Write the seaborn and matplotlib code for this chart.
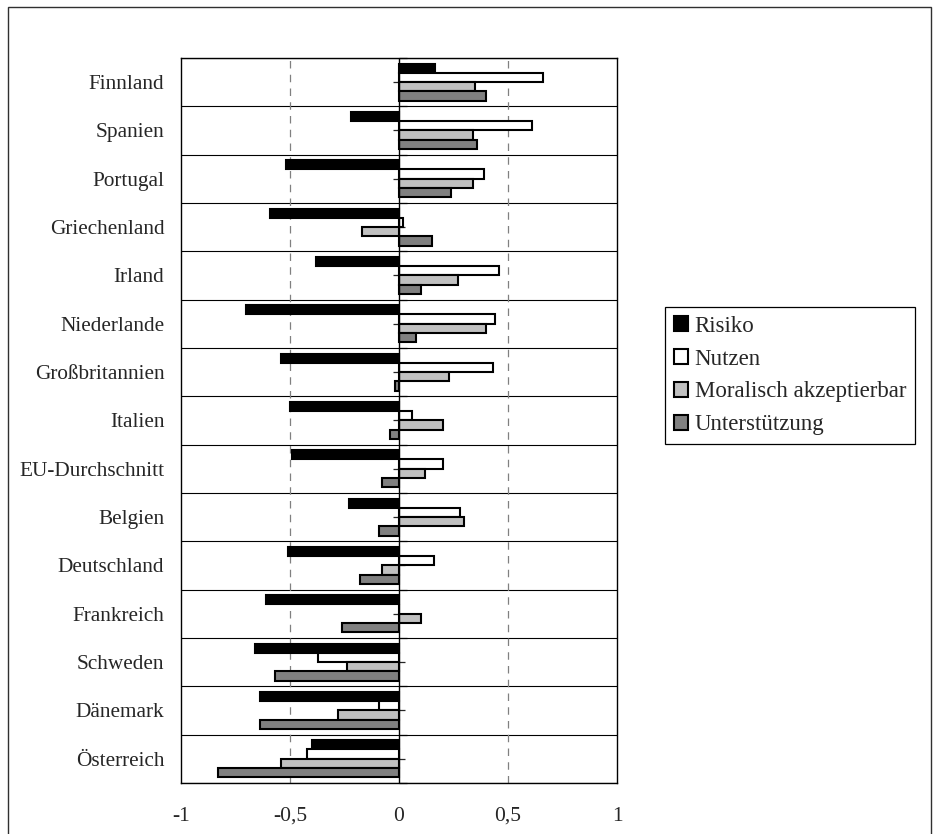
#! /usr/bin/env python3

import numpy as np
import pandas as pd
import matplotlib
matplotlib.use('Agg')
import matplotlib.pyplot as plt
from matplotlib.patches import Rectangle
import seaborn as sns


# data
countries = ['Finnland', 'Spanien', 'Portugal', 'Griechenland', 'Irland',
             'Niederlande', 'Großbritannien', 'Italien', 'EU-Durchschnitt',
             'Belgien', 'Deutschland', 'Frankreich', 'Schweden', 'Dänemark',
             'Österreich']
series = ['Risiko', 'Nutzen', 'Moralisch akzeptierbar', 'Unterstützung']
risiko = [0.165, -0.22, -0.52, -0.59, -0.38, -0.70, -0.54, -0.50, -0.49,
          -0.23, -0.51, -0.61, -0.66, -0.64, -0.40]
nutzen = [0.66, 0.61, 0.39, 0.02, 0.46, 0.44, 0.43, 0.06, 0.20,
          0.28, 0.16, 0.0, -0.37, -0.09, -0.42]
moralisch = [0.35, 0.34, 0.34, -0.17, 0.27, 0.40, 0.23, 0.20, 0.12,
             0.30, -0.08, 0.10, -0.24, -0.28, -0.54]
unterstuetzung = [0.40, 0.36, 0.24, 0.15, 0.10, 0.08, -0.02, -0.04, -0.08,
                  -0.09, -0.18, -0.26, -0.57, -0.64, -0.83]
xticks = [-1, -0.5, 0, 0.5, 1]
xtick_labels = ['-1', '-0,5', '0', '0,5', '1']
colors = ['#000000', '#ffffff', '#c0c0c0', '#808080']


def build_frame():
    values = [risiko, nutzen, moralisch, unterstuetzung]
    rows = []
    for name, vals in zip(series, values):
        for country, v in zip(countries, vals):
            rows.append({'Land': country, 'Reihe': name, 'Wert': v})
    return pd.DataFrame(rows)


def plot_chart(data, outfile):
    sns.set_style('white')
    plt.rcParams['font.family'] = ['Liberation Serif', 'DejaVu Serif']
    plt.rcParams['font.size'] = 15

    fig = plt.figure(figsize=(9.37, 8.34), dpi=100)
    ax = fig.add_axes([0.1932, 0.0612, 0.4653, 0.8693])

    sns.barplot(data=data, y='Land', x='Wert', hue='Reihe', order=countries,
                hue_order=series, palette=colors, saturation=1, orient='h',
                width=0.77, edgecolor='black', linewidth=1.5, ax=ax, zorder=3)

    ax.set_xlim(-1, 1)
    ax.set_ylim(len(countries) - 0.5, -0.5)
    ax.set_xticks(xticks)
    ax.set_xticklabels(xtick_labels, fontsize=15.5)
    ax.set_xlabel('')
    ax.set_ylabel('')
    ax.tick_params(axis='x', direction='out', length=5, width=1, color='black', pad=12)
    ax.tick_params(axis='y', length=0, pad=12)
    for lab in ax.get_yticklabels():
        lab.set_fontsize(15.3)

    # separators between the countries
    ax.set_yticks(np.arange(len(countries) + 1) - 0.5, minor=True)
    ax.tick_params(axis='y', which='minor', length=0)
    ax.grid(False)
    ax.grid(axis='y', which='minor', color='black', linewidth=0.8, zorder=1)

    # dashed vertical gridlines
    for xv in [-0.5, 0.5]:
        ax.axvline(xv, color='#808080', linestyle=(0, (6, 5)), linewidth=0.9, zorder=1)
    ax.axvline(0, color='black', linewidth=1.0, zorder=4)

    for sp in ax.spines.values():
        sp.set_visible(True)
        sp.set_color('black')
        sp.set_linewidth(1.0)

    # category axis sitting on the zero line
    sec = ax.secondary_yaxis(0.5)
    sec.set_yticks(np.arange(len(countries)))
    sec.set_yticklabels([])
    sec.set_yticks(np.arange(len(countries) + 1) - 0.5, minor=True)
    sec.tick_params(which='major', direction='inout', length=8, width=0.9)
    sec.tick_params(which='minor', direction='out', length=6, width=0.9)
    sec.spines['left'].set_visible(False)
    sec.spines['right'].set_visible(False)

    sns.move_legend(ax, loc='upper left', bbox_to_anchor=(1.11, 0.6566),
                    title=None, frameon=True, fancybox=False, shadow=False,
                    fontsize=16.5, handlelength=0.62, handleheight=0.62,
                    handletextpad=0.3, labelspacing=0.52, borderpad=0.38,
                    borderaxespad=0, edgecolor='black', framealpha=1)
    leg = ax.get_legend()
    leg.get_frame().set_linewidth(0.9)
    for h in leg.legend_handles:
        h.set_edgecolor('black')
        h.set_linewidth(1.5)

    # outer chart frame, cut off at the bottom like the reference
    fig.patches.append(Rectangle((8 / 937, -0.1), 923 / 937, 1.1 - 7 / 834,
                                 transform=fig.transFigure, fill=False,
                                 edgecolor='#303030', linewidth=1.0))

    fig.savefig(outfile, dpi=100)
    print("# Saving to", outfile)


if __name__ == "__main__":
    plot_chart(build_frame(), 'out.png')
